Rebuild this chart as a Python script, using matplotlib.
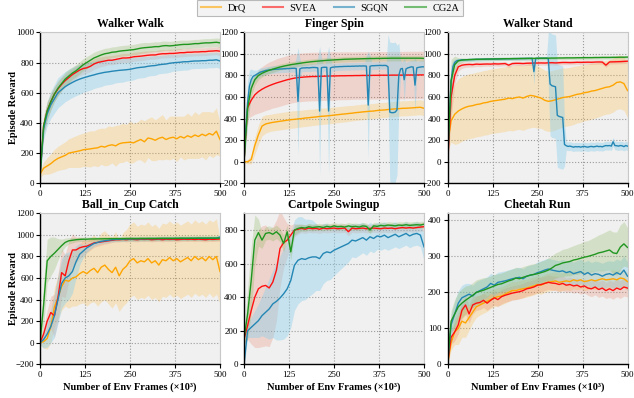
import numpy as np
import matplotlib
matplotlib.use("Agg")
import matplotlib.pyplot as plt
from matplotlib.lines import Line2D

plt.rcParams['font.family'] = ['Liberation Serif', 'DejaVu Serif']

# ---------------- data ----------------
x10 = list(range(0, 501, 10))
x5 = list(range(0, 501, 5))
methods = ["DrQ", "SVEA", "SGQN", "CG2A"]
titles = ["Walker Walk", "Finger Spin", "Walker Stand",
          "Ball_in_Cup Catch", "Cartpole Swingup", "Cheetah Run"]
xticks = [0, 125, 250, 375, 500]

# Walker Walk
ww_drq = [60,100,115,130,150,165,175,185,200,205,
          210,215,222,225,228,232,235,245,240,250,
          255,248,262,268,270,272,268,280,290,275,
          300,295,285,298,305,290,300,305,295,310,
          300,315,305,320,310,325,315,330,320,345,290]
ww_drq_sd = [20,40,55,65,75,80,85,90,95,100,
             105,110,110,115,120,115,125,120,125,130,
             120,135,125,130,120,140,130,125,135,140,
             130,145,135,140,150,130,145,140,150,135,
             145,150,140,155,145,150,160,145,150,155,110]
ww_svea = [50,380,480,540,590,625,655,680,700,720,
           735,750,760,765,775,790,800,805,810,815,
           815,820,825,830,830,832,838,840,842,845,
           848,850,850,855,858,858,860,860,862,865,
           865,868,868,870,870,872,872,875,876,878,875]
ww_svea_sd = [20,60,60,55,50,45,45,40,40,40,
              40,38,38,35,35,35,35,32,32,30,
              30,30,30,30,30,30,30,30,30,30,
              28,28,28,28,28,28,28,28,28,28,
              26,26,26,26,26,26,26,26,26,26,30]
ww_sgqn = [40,360,460,520,560,600,620,640,655,668,
           680,690,698,705,712,718,725,730,735,738,
           742,745,748,750,752,755,760,765,768,770,
           775,778,780,785,788,790,795,798,800,802,
           805,805,808,810,810,812,812,815,815,818,810]
ww_sgqn_sd = [20,70,80,90,95,100,100,100,100,100,
              100,100,95,95,95,90,90,90,85,85,
              85,80,80,80,75,75,75,70,70,70,
              65,65,65,60,60,60,60,55,55,55,
              55,55,50,50,50,50,50,50,50,50,50]
ww_cg2a = [50,380,480,540,590,630,660,690,710,730,
           745,765,785,800,815,830,840,850,858,862,
           868,870,875,878,880,883,885,890,895,898,
           900,902,905,905,910,912,910,912,915,918,
           920,920,922,925,925,928,930,930,932,934,930]
ww_cg2a_sd = [20,60,60,55,50,50,45,45,45,40,
              40,40,40,40,38,38,38,36,36,35,
              35,35,35,35,35,35,35,35,35,35,
              32,32,32,32,32,30,30,30,30,30,
              28,28,28,28,28,28,28,28,28,28,30]

# Finger Spin
fs_drq = [0,0,20,150,250,330,350,358,365,370,
          375,380,385,390,393,397,400,405,408,412,
          415,420,422,425,428,432,436,440,443,447,
          450,455,458,462,465,468,470,475,478,480,
          484,487,490,492,495,496,498,500,503,505,495]
fs_drq_sd = [10,20,40,80,90,90,85,80,80,80,
             80,80,80,80,80,78,78,78,78,76,
             76,76,75,75,75,75,74,74,74,74,
             72,72,72,72,72,70,70,70,70,70,
             70,70,70,70,70,70,70,70,70,70,70]
fs_svea = [0,500,570,620,650,672,690,705,718,730,
           740,750,760,768,775,780,783,786,788,790,
           790,792,793,794,795,795,796,797,797,798,
           798,799,799,800,800,800,801,801,802,802,
           802,803,803,803,803,804,804,804,804,805,805]
fs_svea_sd = [10,100,150,180,200,210,215,220,220,225,
              225,225,225,225,225,225,225,225,225,225,
              225,225,225,225,225,225,222,222,222,222,
              220,220,220,220,220,220,220,220,220,220,
              220,220,220,220,220,220,220,220,220,220,220]
fs_sgqn = [0,300,550,700,760,790,800,810,820,830,
           835,840,845,848,850,852,855,856,858,858,
           860,860,862,862,864,863,865,866,866,865,
           560,860,868,870,870,872,870,872,874,874,
           873,870,470,872,875,876,875,470,870,876,
           878,880,880,882,882,883,884,884,885,884,
           886,885,887,886,888,887,888,888,886,525,
           885,890,890,891,892,892,893,892,893,892,
           880,460,455,455,460,480,800,860,865,760,
           860,870,875,880,878,710,870,875,878,880,880]
fs_sgqn_sd = [10,150,200,150,100,60,50,40,40,40,
              35,35,35,35,35,35,35,35,35,35,
              35,35,35,35,35,35,35,35,35,100,
              500,100,35,35,35,35,35,35,35,35,
              35,100,600,100,35,35,100,600,100,35,
              35,35,35,35,35,35,35,35,35,35,
              35,35,35,35,35,35,35,35,100,500,
              100,35,35,35,35,35,35,35,35,35,
              300,650,650,650,650,600,300,80,60,200,
              60,60,60,60,60,250,60,60,60,60,60]
fs_cg2a = [0,500,680,760,800,820,835,848,858,868,
           878,886,893,900,905,910,915,920,924,928,
           931,934,937,940,942,944,946,948,950,951,
           952,953,954,955,956,957,957,958,958,959,
           959,960,960,960,960,960,960,960,960,960,958]
fs_cg2a_sd = [10,150,80,50,40,35,30,30,30,28,
              28,28,27,27,27,26,26,26,26,25,
              25,25,25,25,25,25,25,25,25,25,
              25,25,25,25,25,25,25,25,25,25,
              25,25,25,25,25,25,25,25,25,25,25]

# Walker Stand
wst_drq = [150,380,440,470,490,505,515,520,530,535,
           545,550,560,565,570,575,580,590,585,595,
           600,590,605,615,610,600,590,570,560,565,
           575,585,595,600,605,615,625,630,640,645,
           655,660,670,680,690,695,710,735,740,725,660]
wst_drq_sd = [50,200,280,300,300,300,300,300,300,300,
              300,300,300,300,300,300,300,300,300,300,
              300,300,300,300,290,290,280,280,280,280,
              280,275,275,270,270,270,265,265,260,260,
              260,255,255,250,250,250,250,250,250,250,250]
wst_svea = [-50,600,800,880,895,900,902,900,905,903,
            905,906,905,908,906,908,910,895,910,912,
            912,910,913,914,915,915,916,915,917,918,
            916,918,920,920,919,920,922,921,922,923,
            922,924,925,924,895,925,926,927,928,930,932]
wst_svea_sd = [30,200,80,40,30,25,25,22,22,22,
               20,20,20,20,20,20,20,20,20,20,
               20,20,20,20,20,20,20,20,20,20,
               20,20,20,20,20,20,20,20,20,20,
               20,20,20,20,20,20,20,20,20,20,20]
wst_sgqn = [-50,400,750,880,920,935,940,942,945,945,
            946,946,947,947,948,948,949,949,950,950,
            950,951,951,951,952,952,952,953,953,953,
            954,954,954,955,955,955,955,956,956,956,
            956,957,957,957,957,958,958,958,835,958,
            958,959,959,959,959,960,955,720,705,700,
            695,430,420,415,410,160,148,142,145,140,
            135,140,138,140,135,140,142,138,135,140,
            142,138,140,145,140,142,138,145,150,148,
            150,145,185,150,148,145,150,148,140,150,145]
wst_sgqn_sd = [20,150,150,60,30,20,15,15,15,15,
               15,15,15,15,15,15,15,15,15,15,
               15,15,15,15,15,15,15,15,15,15,
               15,15,15,15,15,15,15,15,15,15,
               15,15,15,15,15,15,15,20,120,20,
               15,15,15,15,15,15,250,480,480,480,
               480,480,480,480,480,200,40,40,40,40,
               40,40,40,40,40,40,40,40,40,40,
               40,40,40,40,40,40,40,40,40,40,
               40,40,40,40,40,40,40,40,40,40,40]
wst_cg2a = [0,750,900,935,942,945,947,948,950,950,
            951,952,952,953,953,954,955,955,956,956,
            957,957,958,958,958,959,960,960,960,961,
            961,962,962,963,963,963,964,964,965,965,
            965,966,966,967,967,967,968,968,969,969,970]
wst_cg2a_sd = [20,200,80,30,20,15,15,15,15,15,
               15,15,15,15,15,15,15,15,15,15,
               15,15,15,15,15,15,15,15,15,15,
               15,15,15,15,15,15,15,15,15,15,
               15,15,15,15,15,15,15,15,15,15,15]

# Ball_in_Cup Catch
bic_drq = [0,10,40,150,330,420,520,580,570,600,
           610,640,660,640,670,690,650,700,720,680,
           650,700,620,680,710,760,780,740,760,750,
           780,740,760,720,770,760,790,760,780,750,
           770,790,760,800,770,790,760,800,770,800,660]
bic_drq_sd = [20,60,100,150,180,200,220,240,250,260,
              270,280,290,300,300,310,310,320,320,320,
              330,330,330,340,340,340,340,340,340,340,
              340,340,340,340,340,340,340,340,340,340,
              340,340,340,340,340,340,340,340,350,350,300]
bic_svea = [0,80,200,280,250,420,650,620,760,860,
            860,880,890,895,910,925,930,935,940,945,
            950,955,955,958,955,960,958,955,960,958,
            960,955,958,960,955,960,958,960,955,958,
            960,958,960,957,960,958,955,960,958,960,962]
bic_svea_sd = [20,60,100,150,200,220,220,200,180,150,
               120,100,80,60,50,40,35,30,25,25,
               20,20,20,20,20,20,20,20,20,20,
               20,20,20,20,20,20,20,20,20,20,
               20,20,20,20,20,20,20,20,20,20,20]
bic_sgqn = [0,30,80,150,250,400,550,600,620,660,
            750,820,850,880,900,920,930,940,945,950,
            955,958,960,960,962,962,963,963,964,964,
            965,965,965,965,966,966,966,966,967,967,
            967,967,968,968,968,968,968,969,969,969,980]
bic_sgqn_sd = [20,80,120,150,200,220,230,230,220,200,
               150,100,60,40,30,25,20,20,20,20,
               20,20,20,20,20,20,20,20,20,20,
               20,20,20,20,20,20,20,20,20,20,
               20,20,20,20,20,20,20,20,20,20,20]
bic_cg2a = [0,350,760,800,830,865,900,930,945,950,
            955,958,960,960,962,962,963,963,964,964,
            965,965,965,965,966,966,966,966,967,967,
            967,967,967,968,968,968,968,968,968,969,
            969,969,969,969,970,970,970,970,970,970,970]
bic_cg2a_sd = [20,200,200,180,150,100,60,40,30,25,
               20,20,20,20,20,20,20,20,20,20,
               20,20,20,20,20,20,20,20,20,20,
               20,20,20,20,20,20,20,20,20,20,
               20,20,20,20,20,20,20,20,20,20,20]

# Cartpole Swingup (no DrQ curve visible)
cp_svea = [150,230,320,400,450,465,470,455,490,560,
           690,725,740,770,800,805,810,805,812,808,
           810,805,812,808,810,812,808,810,812,790,
           812,808,810,812,808,810,812,810,808,812,
           810,812,808,812,815,812,815,812,815,818,820]
cp_svea_sd = [30,80,200,300,350,360,360,350,330,300,
              230,150,100,60,40,30,25,25,25,25,
              25,25,25,25,25,25,25,25,25,25,
              25,25,25,25,25,25,25,25,25,25,
              25,25,25,25,25,25,25,25,25,25,25]
cp_sgqn = [0,200,220,240,260,290,310,330,360,375,
           395,420,450,500,590,620,630,625,635,640,
           640,630,660,670,665,680,690,700,710,720,
           740,735,745,755,740,760,750,765,760,770,
           755,765,775,760,770,780,765,775,780,770,700]
cp_sgqn_sd = [20,40,60,80,100,120,150,180,200,230,
              250,270,280,280,270,260,250,240,230,220,
              200,190,180,170,160,150,140,130,120,110,
              100,100,95,90,90,85,85,80,80,80,
              75,75,75,70,70,70,70,70,70,70,80]
cp_cg2a = [150,300,500,740,785,740,780,785,775,790,
           770,720,790,670,800,810,815,812,820,815,
           818,820,815,822,818,825,820,822,818,825,
           820,822,818,825,822,800,825,822,828,825,
           830,828,825,830,828,832,828,830,832,830,835]
cp_cg2a_sd = [30,150,200,150,80,50,40,40,40,40,
              40,50,40,50,30,25,20,20,20,20,
              20,20,20,20,20,20,20,20,20,20,
              20,20,20,20,20,20,20,20,20,20,
              20,20,20,20,20,20,20,20,20,20,20]

# Cheetah Run
ch_drq = [0,60,90,100,120,115,130,145,160,165,
          170,175,180,185,188,190,195,200,205,205,
          208,210,212,215,218,222,220,225,228,230,
          232,228,230,232,230,235,232,235,230,232,
          235,232,235,238,235,236,238,235,240,238,230]
ch_drq_sd = [5,20,35,45,45,40,35,30,30,28,
             28,28,25,25,25,25,25,25,25,25,
             25,25,25,25,25,25,25,25,25,25,
             25,25,25,25,25,25,25,25,25,25,
             25,25,25,25,25,25,25,25,25,25,25]
ch_svea = [0,75,90,110,150,165,140,165,170,172,
           178,170,178,185,180,188,192,195,198,200,
           202,205,210,212,215,220,222,225,228,226,
           225,222,225,220,222,218,220,215,218,212,
           210,215,208,212,205,210,205,212,208,215,212]
ch_svea_sd = [5,20,25,25,25,25,25,25,20,20,
              20,20,20,20,20,20,20,20,20,20,
              20,20,20,20,20,20,20,20,20,20,
              20,20,20,20,20,20,20,20,20,20,
              22,22,22,22,22,24,24,24,25,25,25]
ch_sgqn = [0,110,140,170,185,190,195,190,200,205,
           210,215,225,220,228,230,232,235,238,240,
           242,238,245,248,250,255,258,262,265,262,
           260,258,260,255,258,252,255,258,250,255,
           248,252,250,245,250,252,248,255,250,262,245]
ch_sgqn_sd = [5,30,35,35,35,35,30,30,30,30,
              28,28,28,28,28,28,28,28,28,28,
              28,28,28,28,28,30,30,30,30,30,
              30,30,32,32,32,32,34,34,34,34,
              35,35,35,36,36,36,38,38,38,40,40]
ch_cg2a = [0,120,140,160,170,178,185,192,200,203,
           206,210,214,218,222,224,228,232,235,240,
           238,242,245,248,250,252,255,258,262,268,
           275,278,282,284,286,290,292,295,298,300,
           303,306,310,312,315,318,310,308,326,335,325]
ch_cg2a_sd = [5,30,40,40,40,40,35,35,35,35,
              35,32,32,32,30,30,30,30,30,30,
              30,30,30,30,30,30,32,32,34,34,
              35,36,38,38,40,40,42,42,44,44,
              46,48,50,52,54,56,58,60,62,62,55]

# ---------------- style ----------------
colors = {"DrQ": "#FFA500", "SVEA": "#FF1010", "SGQN": "#2386b4", "CG2A": "#1f961f"}
band_colors = {"DrQ": "#FFB733", "SVEA": "#E8704F", "SGQN": "#87CEEB", "CG2A": "#7fb04a"}
band_alpha = {"DrQ": 0.25, "SVEA": 0.22, "SGQN": 0.4, "CG2A": 0.25}

panels = [
    dict(title=titles[0], ylim=(0, 1000), yticks=list(range(0, 1001, 200)),
         series=[("DrQ", x10, ww_drq, ww_drq_sd), ("SVEA", x10, ww_svea, ww_svea_sd),
                 ("SGQN", x10, ww_sgqn, ww_sgqn_sd), ("CG2A", x10, ww_cg2a, ww_cg2a_sd)]),
    dict(title=titles[1], ylim=(-200, 1200), yticks=list(range(-200, 1201, 200)),
         series=[("DrQ", x10, fs_drq, fs_drq_sd), ("SVEA", x10, fs_svea, fs_svea_sd),
                 ("SGQN", x5, fs_sgqn, fs_sgqn_sd), ("CG2A", x10, fs_cg2a, fs_cg2a_sd)]),
    dict(title=titles[2], ylim=(-200, 1200), yticks=list(range(-200, 1201, 200)),
         series=[("DrQ", x10, wst_drq, wst_drq_sd), ("SVEA", x10, wst_svea, wst_svea_sd),
                 ("SGQN", x5, wst_sgqn, wst_sgqn_sd), ("CG2A", x10, wst_cg2a, wst_cg2a_sd)]),
    dict(title=titles[3], ylim=(-200, 1200), yticks=list(range(-200, 1201, 200)),
         series=[("DrQ", x10, bic_drq, bic_drq_sd), ("SVEA", x10, bic_svea, bic_svea_sd),
                 ("SGQN", x10, bic_sgqn, bic_sgqn_sd), ("CG2A", x10, bic_cg2a, bic_cg2a_sd)]),
    dict(title=titles[4], ylim=(0, 900), yticks=list(range(0, 801, 200)),
         series=[("SVEA", x10, cp_svea, cp_svea_sd),
                 ("SGQN", x10, cp_sgqn, cp_sgqn_sd), ("CG2A", x10, cp_cg2a, cp_cg2a_sd)]),
    dict(title=titles[5], ylim=(0, 420), yticks=list(range(0, 401, 100)),
         series=[("DrQ", x10, ch_drq, ch_drq_sd), ("SVEA", x10, ch_svea, ch_svea_sd),
                 ("SGQN", x10, ch_sgqn, ch_sgqn_sd), ("CG2A", x10, ch_cg2a, ch_cg2a_sd)]),
]

for p in panels:
    for name, xs, m, s in p["series"]:
        assert len(xs) == len(m) == len(s), (p["title"], name, len(xs), len(m), len(s))

fig = plt.figure(figsize=(6.34, 3.98), dpi=100)
W, H = 634, 398
lefts = [40, 244, 447.5]
width = 180.0
tops = [32.3, 213.3]
height = 151

for i, p in enumerate(panels):
    r, c = divmod(i, 3)
    ax = fig.add_axes([lefts[c] / W, 1 - (tops[r] + height) / H, width / W, height / H])
    ax.set_facecolor("#f0f0f0")
    for name, xs, m, s in p["series"]:
        xa = np.array(xs); ma = np.array(m, float); sa = np.array(s, float)
        ax.fill_between(xa, ma - sa, ma + sa, color=band_colors[name],
                        alpha=band_alpha[name], linewidth=0)
    for name, xs, m, s in p["series"]:
        ax.plot(xs, m, color=colors[name], lw=1.0)
    ax.set_xlim(0, 500)
    ax.set_ylim(*p["ylim"])
    ax.set_xticks(xticks)
    ax.set_yticks(p["yticks"])
    ax.grid(True, linestyle=":", color="#9a9a9a", lw=0.8)
    ax.set_axisbelow(True)
    ax.tick_params(labelsize=6.5, length=3, width=0.8, direction="out", pad=1.5)
    for sp in ["left", "bottom"]:
        ax.spines[sp].set_color("black"); ax.spines[sp].set_linewidth(1.0)
    for sp in ["top", "right"]:
        ax.spines[sp].set_color("#c8c8c8"); ax.spines[sp].set_linewidth(0.8)
    ax.set_title(p["title"], fontsize=8.5, fontweight="bold", pad=3.5)
    if c == 0:
        ax.set_ylabel("Episode Reward", fontsize=7.5, fontweight="bold")
        ax.yaxis.set_label_coords(-0.125, 0.5)
    if r == 1:
        ax.set_xlabel("Number of Env Frames (×10³)", fontsize=7.5, fontweight="bold", labelpad=3)

handles = [Line2D([0], [0], color=colors[m], lw=1.5, alpha=0.6) for m in methods]
leg = fig.legend(handles, methods, loc="upper center", bbox_to_anchor=(0.5205, 1.012),
                 ncol=4, fontsize=7.5, handlelength=2.0, columnspacing=1.6,
                 frameon=True, fancybox=False, edgecolor="#aaaaaa", facecolor="#f0f0f0",
                 borderpad=0.3, handletextpad=0.6)
leg.get_frame().set_linewidth(0.8)

fig.savefig("out.png", dpi=100)
